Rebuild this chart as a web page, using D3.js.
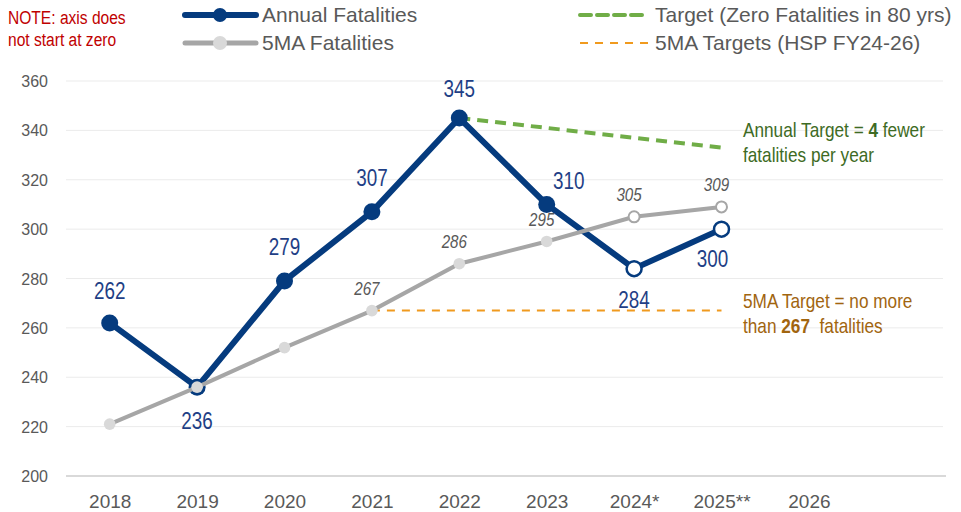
<!DOCTYPE html>
<html>
<head>
<meta charset="utf-8">
<script src="https://cdn.jsdelivr.net/npm/d3@7/dist/d3.min.js"></script>
<style>
  html, body { margin: 0; padding: 0; background: #ffffff; }
  svg { display: block; }
  text { font-family: "Liberation Sans", Arial, sans-serif; }
</style>
</head>
<body>
<svg id="chart" width="961" height="512"></svg>
<script>
// ---- data ----
const years = ["2018", "2019", "2020", "2021", "2022", "2023", "2024*", "2025**", "2026"];
const annualFatalities = [262, 236, 279, 307, 345, 310, 284, 300];
const annualOpen = [false, false, false, false, false, false, true, true];
const fiveYearAvg = [221, 236, 252, 267, 286, 295, 305, 309];
const fiveYearOpen = [false, false, false, false, false, false, true, true];
const fiveYearLabeled = [false, false, false, true, true, true, true, true];
const annualReduction = 4;
const targetYears = ["2022", "2025**"];
const targetValues = [345, 333];
const fiveYearTargetYears = ["2021", "2025**"];
const fiveYearTargetValues = [267, 267];
const yTicks = [200, 220, 240, 260, 280, 300, 320, 340, 360];

// ---- layout ----
const svg = d3.select("#chart");
const plotLeft = 66, plotRight = 943;
const step = 87.4;
const x = d3.scalePoint()
  .domain(years)
  .range([plotLeft + step / 2, plotLeft + step / 2 + step * (years.length - 1)]);
const y = d3.scaleLinear().domain([200, 360]).range([476, 81]);

const navy = "#053B7E";
const navyText = "#1F3F86";
const grey = "#A6A6A6";
const greyDot = "#D9D9D9";
const axisText = "#595959";

// condensed look: squeeze text horizontally around its anchor x
const NARROW = 0.82;
function narrow(sel) {
  sel.each(function () {
    const t = d3.select(this);
    const ax = +t.attr("x") || 0;
    t.attr("transform", `translate(${ax},0) scale(${NARROW},1) translate(${-ax},0)`);
  });
}

// gridlines
svg.append("g").selectAll("line")
  .data(yTicks.filter(t => t > 200))
  .join("line")
  .attr("x1", plotLeft).attr("x2", plotRight)
  .attr("y1", d => y(d)).attr("y2", d => y(d))
  .attr("stroke", "#EBEBEB").attr("stroke-width", 1);

// baseline
svg.append("line")
  .attr("x1", plotLeft).attr("x2", plotRight + 3)
  .attr("y1", y(200)).attr("y2", y(200))
  .attr("stroke", "#D9D9D9").attr("stroke-width", 2);

// y axis labels
const yAxis = d3.axisLeft(y).tickValues(yTicks).tickSize(0).tickPadding(0);
const yg = svg.append("g").attr("transform", "translate(48,0)").call(yAxis);
yg.select(".domain").remove();
yg.attr("font-family", null);
yg.selectAll("text")
  .attr("font-size", 16).attr("fill", axisText).attr("dy", "0.35em");

// x axis labels
const xAxis = d3.axisBottom(x).tickSize(0).tickPadding(0);
const xg = svg.append("g").attr("transform", "translate(0,501)").call(xAxis);
xg.select(".domain").remove();
xg.attr("font-family", null);
xg.selectAll("text")
  .attr("font-size", 19).attr("fill", axisText).attr("dy", "0.35em");

const line = d3.line().x(d => x(d[0])).y(d => y(d[1]));

// five-year moving-average target (orange dashed)
svg.append("path")
  .datum(fiveYearTargetYears.map((yr, i) => [yr, fiveYearTargetValues[i]]))
  .attr("d", line)
  .attr("fill", "none").attr("stroke", "#F09A1E")
  .attr("stroke-width", 2).attr("stroke-dasharray", "8,7");

// annual target (green dashed)
svg.append("path")
  .datum(targetYears.map((yr, i) => [yr, targetValues[i]]))
  .attr("d", line)
  .attr("fill", "none").attr("stroke", "#70AD47")
  .attr("stroke-width", 4).attr("stroke-dasharray", "11,7");

// annual series
const annPts = annualFatalities.map((v, i) => [years[i], v]);
svg.append("path").datum(annPts).attr("d", line)
  .attr("fill", "none").attr("stroke", navy).attr("stroke-width", 6)
  .attr("stroke-linejoin", "round");
svg.append("g").selectAll("circle").data(annPts).join("circle")
  .attr("cx", d => x(d[0])).attr("cy", d => y(d[1]))
  .attr("r", (d, i) => annualOpen[i] ? 7.5 : 8.5)
  .attr("fill", (d, i) => annualOpen[i] ? "#ffffff" : navy)
  .attr("stroke", navy)
  .attr("stroke-width", (d, i) => annualOpen[i] ? 2.5 : 0);

// 5MA series (drawn over the annual line)
const maPts = fiveYearAvg.map((v, i) => [years[i], v]);
svg.append("path").datum(maPts).attr("d", line)
  .attr("fill", "none").attr("stroke", grey).attr("stroke-width", 4);
svg.append("g").selectAll("circle").data(maPts).join("circle")
  .attr("cx", d => x(d[0])).attr("cy", d => y(d[1]))
  .attr("r", (d, i) => fiveYearOpen[i] ? 5.5 : 5.8)
  .attr("fill", (d, i) => fiveYearOpen[i] ? "#ffffff" : greyDot)
  .attr("stroke", (d, i) => fiveYearOpen[i] ? grey : "none")
  .attr("stroke-width", 2);
svg.append("g").selectAll("text").data(maPts.filter((d, i) => fiveYearLabeled[i])).join("text")
  .attr("x", d => x(d[0]) - 5).attr("y", d => y(d[1]) - 22)
  .attr("dy", "0.35em")
  .attr("text-anchor", "middle")
  .attr("font-size", 18.5).attr("font-style", "italic").attr("fill", axisText)
  .text(d => d[1])
  .call(narrow);

// label placement for annual values: [dx, dy] relative to the point
const annualLabelOffset = [[0, -32], [0, 34], [0, -34], [0, -34], [0, -29], [22, -23], [0, 31], [-9, 30]];
svg.append("g").selectAll("text").data(annPts).join("text")
  .attr("x", (d, i) => x(d[0]) + annualLabelOffset[i][0])
  .attr("y", (d, i) => y(d[1]) + annualLabelOffset[i][1])
  .attr("dy", "0.35em")
  .attr("text-anchor", "middle")
  .attr("font-size", 23).attr("fill", navyText)
  .text(d => d[1])
  .call(narrow);

// annotations on the right
const annGreen = svg.append("text").attr("x", 743)
  .attr("font-size", 21).attr("fill", "#3E6B24");
annGreen.append("tspan").attr("x", 743).attr("y", 137).text("Annual Target = ");
annGreen.append("tspan").attr("font-weight", "bold").text(annualReduction);
annGreen.append("tspan").text(" fewer");
annGreen.append("tspan").attr("x", 743).attr("y", 162).text("fatalities per year");
annGreen.call(narrow);

const annOrange = svg.append("text").attr("x", 743)
  .attr("font-size", 21).attr("fill", "#A1650F");
annOrange.append("tspan").attr("x", 743).attr("y", 308).text("5MA Target = no more");
annOrange.append("tspan").attr("x", 743).attr("y", 333).text("than ");
annOrange.append("tspan").attr("font-weight", "bold").text(fiveYearTargetValues[0]);
annOrange.append("tspan").text("\u00A0 fatalities");
annOrange.call(narrow);

// note
const note = svg.append("text").attr("x", 8)
  .attr("font-size", 19).attr("fill", "#C00000");
note.append("tspan").attr("x", 8).attr("y", 24).text("NOTE: axis does");
note.append("tspan").attr("x", 8).attr("y", 46).text("not start at zero");
note.call(narrow);

// legend
const legend = svg.append("g");
const lg1 = legend.append("g").attr("transform", "translate(185,15)");
lg1.append("line").attr("x1", 0).attr("x2", 71).attr("stroke", navy).attr("stroke-width", 6).attr("stroke-linecap", "round");
lg1.append("circle").attr("cx", 35).attr("r", 7).attr("fill", navy);
lg1.append("text").attr("x", 77).attr("dy", "0.35em").attr("font-size", 21).attr("fill", axisText).text("Annual Fatalities");

const lg2 = legend.append("g").attr("transform", "translate(185,43)");
lg2.append("line").attr("x1", 0).attr("x2", 71).attr("stroke", grey).attr("stroke-width", 5).attr("stroke-linecap", "round");
lg2.append("circle").attr("cx", 35).attr("r", 7).attr("fill", greyDot);
lg2.append("text").attr("x", 77).attr("dy", "0.35em").attr("font-size", 21).attr("fill", axisText).text("5MA Fatalities");

const lg3 = legend.append("g").attr("transform", "translate(580,15)");
lg3.append("line").attr("x1", 0).attr("x2", 68).attr("stroke", "#70AD47").attr("stroke-width", 4).attr("stroke-dasharray", "11,6").attr("stroke-linecap", "round");
lg3.append("text").attr("x", 75).attr("dy", "0.35em").attr("font-size", 21).attr("fill", axisText).text("Target (Zero Fatalities in 80 yrs)");

const lg4 = legend.append("g").attr("transform", "translate(580,43)");
lg4.append("line").attr("x1", 0).attr("x2", 68).attr("stroke", "#F09A1E").attr("stroke-width", 2).attr("stroke-dasharray", "8,7");
lg4.append("text").attr("x", 75).attr("dy", "0.35em").attr("font-size", 21).attr("fill", axisText).text("5MA Targets (HSP FY24-26)");
</script>
</body>
</html>
